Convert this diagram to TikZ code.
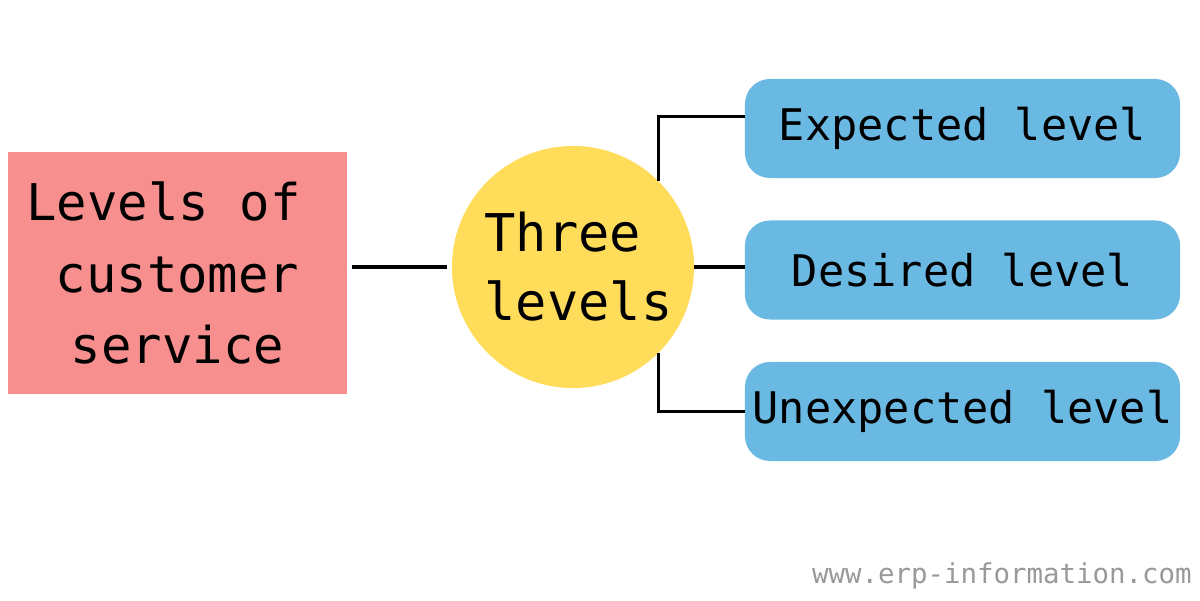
\documentclass[tikz,border=0pt]{standalone}
\usepackage{fontspec}
\newfontfamily\monofont{DejaVu Sans Mono}
\usetikzlibrary{positioning,calc}
\definecolor{lvlpink}{RGB}{247,143,143}
\definecolor{lvlyellow}{RGB}{255,220,90}
\definecolor{lvlblue}{RGB}{106,185,227}
\tikzset{
  topic/.style={rectangle, fill=lvlpink, minimum width=8.475cm,
                minimum height=6.05cm, align=center, inner sep=0pt,
                font=\monofont\fontsize{36pt}{51pt}\selectfont},
  hub/.style={circle, fill=lvlyellow, minimum size=6.05cm, inner sep=0pt,
              align=left, font=\monofont\fontsize{37pt}{49pt}\selectfont},
  level/.style={rectangle, rounded corners=0.625cm, fill=lvlblue,
                minimum width=10.875cm, minimum height=2.475cm,
                inner sep=0pt, align=center,
                font=\monofont\fontsize{31pt}{37pt}\selectfont},
  link/.style={line width=2.2pt, draw=black}
}
\begin{document}
\begin{tikzpicture}[x=0.025cm, y=0.025cm]
\useasboundingbox (0,0) rectangle (1200,600);
% left box and centre circle
\node[topic] (cust) at (177.5,327) {Levels of\hspace*{0.55em}\mbox{}\\customer\\service};
\node[hub] (three) at (573,333) {\hspace*{8pt}Three\\\hspace*{8pt}levels};
% the three levels
\node[level] (exp) at (962.5,471.5) {Expected level};
\node[level] (des) at (962.5,330) {Desired level};
\node[level] (unexp) at (962.5,188.5) {Unexpected level};
% connectors
\draw[link, shorten <=3pt, shorten >=3pt] (cust.east |- three.west) -- (three.west);
\draw[link] (three.north east) |- ([yshift=0.29cm]exp.west);
\draw[link] (three.east) -- (des.west |- three.east);
\draw[link] (three.south east) |- (unexp.west);
% site name
\node[anchor=east, text=black!40, inner sep=0pt,
      font=\monofont\fontsize{19.5pt}{22pt}\selectfont] (site) at (1192,24)
  {www.erp-information.com};
\end{tikzpicture}
\end{document}
